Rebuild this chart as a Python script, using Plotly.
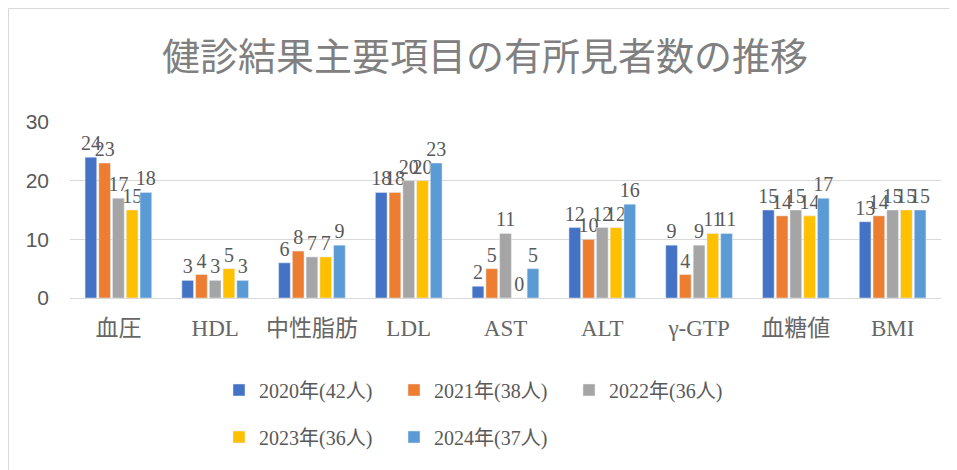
import re
import plotly.graph_objects as go

categories = ["血圧", "HDL", "中性脂肪", "LDL", "AST", "ALT", "γ-GTP", "血糖値", "BMI"]
series_names = ["2020年(42人)", "2021年(38人)", "2022年(36人)", "2023年(36人)", "2024年(37人)"]
v2020 = [24, 3, 6, 18, 2, 12, 9, 15, 13]
v2021 = [23, 4, 8, 18, 5, 10, 4, 14, 14]
v2022 = [17, 3, 7, 20, 11, 12, 9, 15, 15]
v2023 = [15, 5, 7, 20, 0, 12, 11, 14, 15]
v2024 = [18, 3, 9, 23, 5, 16, 11, 17, 15]
y_ticks = [0, 10, 20, 30]
title_text = "健診結果主要項目の有所見者数の推移"

colors = ["#4472C4", "#ED7D31", "#A5A5A5", "#FFC000", "#5B9BD5"]
all_values = [v2020, v2021, v2022, v2023, v2024]
legend_ids = ["legend", "legend", "legend", "legend2", "legend2"]

serif = "Liberation Serif, Noto Sans CJK JP"


def serif_runs(s):
    # keep Latin digits/parentheses in the serif face next to CJK characters
    return re.sub(r"([0-9()]+)",
                  r"<span style='font-family:Liberation Serif'>\1</span>", s)


OFF = 8  # page body margin
W, H = 957 - OFF, 470 - OFF
L, R, T, B = 70 - OFF, 16, 122 - OFF, 172
pw, ph = W - L - R, H - T - B


def px_x(p):
    return (p - OFF - L) / pw


def px_y(p):
    return (H - B - (p - OFF)) / ph


fig = go.Figure()
for name, vals, col, lg in zip(series_names, all_values, colors, legend_ids):
    fig.add_trace(go.Bar(
        x=categories, y=vals, name=serif_runs(name), marker_color=col,
        text=vals, textposition="outside", cliponaxis=False,
        constraintext="none",
        textfont=dict(family=serif, size=20, color="#595959"),
        legend=lg,
    ))

legend_common = dict(
    orientation="h", xanchor="left", yanchor="middle",
    font=dict(family=serif, size=20, color="#595959"),
    bgcolor="rgba(0,0,0,0)", entrywidth=130, entrywidthmode="pixels",
    itemclick=False, itemdoubleclick=False,
)

fig.update_layout(
    width=W, height=H,
    margin=dict(l=L, r=R, t=T, b=B),
    paper_bgcolor="white", plot_bgcolor="white",
    font=dict(family=serif, color="#595959"),
    barmode="group", bargap=0.29, bargroupgap=0.15,
    title=dict(text=title_text, x=(485 - OFF) / W, xanchor="center",
               y=1 - (57 - OFF) / H, yanchor="middle", yref="container",
               font=dict(family="Noto Sans CJK JP", size=38, color="#808080")),
    xaxis=dict(showgrid=False, showline=False, ticks="",
               tickfont=dict(family=serif, size=23, color="#666666"),
               ticklabelstandoff=14),
    yaxis=dict(range=[0, 30], tickvals=y_ticks, showgrid=True,
               gridcolor="#d9d9d9", gridwidth=1, zeroline=True,
               zerolinecolor="#d9d9d9", zerolinewidth=1, showline=False,
               tickfont=dict(family="Liberation Sans, Noto Sans CJK JP", size=21, color="#595959"),
               ticklabelstandoff=20),
    legend=dict(x=px_x(219), y=px_y(390), **legend_common),
    legend2=dict(x=px_x(219), y=px_y(437), **legend_common),
    showlegend=True,
    shapes=[dict(type="rect", xref="paper", yref="paper",
                 x0=px_x(OFF + 0.5), x1=px_x(980), y0=px_y(490), y1=px_y(OFF + 0.5),
                 line=dict(color="#d9d9d9", width=1), fillcolor="rgba(0,0,0,0)",
                 layer="below")],
)

fig.write_html("out.html")
